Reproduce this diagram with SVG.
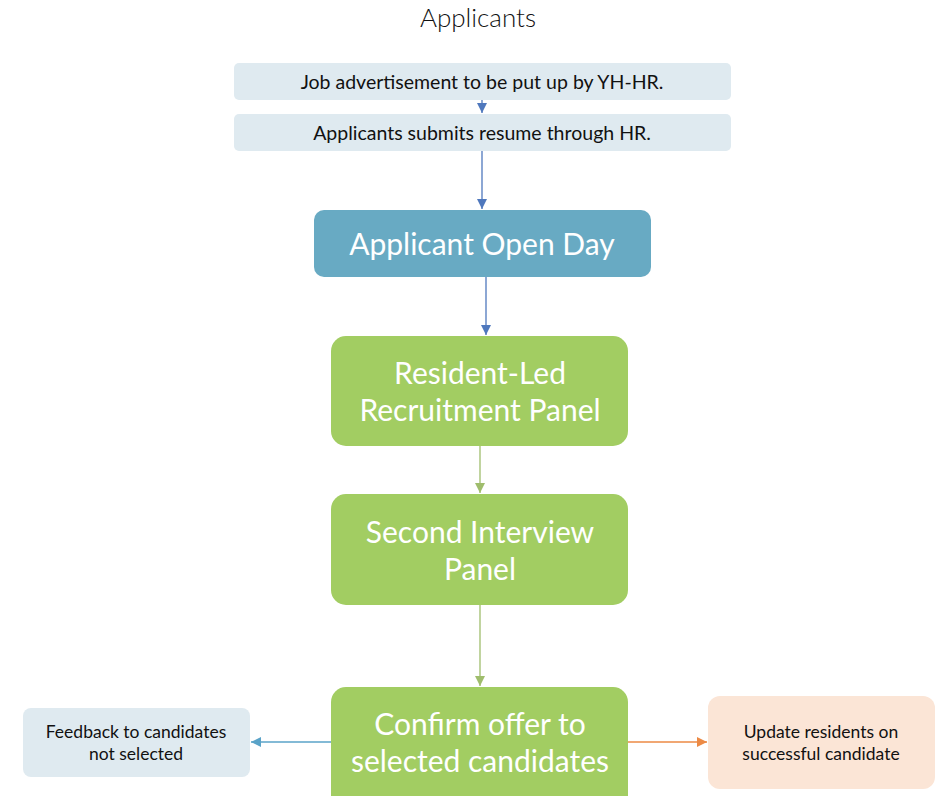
<svg xmlns="http://www.w3.org/2000/svg" width="938" height="796" viewBox="0 0 938 796">
<style>
text{font-family:"Lato","Open Sans",sans-serif;text-anchor:middle}
.lt{fill:#dfeaf0}
.dk{fill:#111;font-size:19.5px}
.sm{fill:#111;font-size:17.5px}
.wh{fill:#fff;font-size:30px}
.gr{fill:#a2cd62}
.c{fill:none;stroke-width:1.3}
</style>
<defs>
<marker id="ab" viewBox="0 0 10 10" refX="10" refY="5" markerWidth="10" markerHeight="10" markerUnits="userSpaceOnUse" orient="auto"><path d="M0,0L10,5L0,10z" fill="#4f78bd"/></marker>
<marker id="ag" viewBox="0 0 10 10" refX="10" refY="5" markerWidth="10" markerHeight="10" markerUnits="userSpaceOnUse" orient="auto"><path d="M0,0L10,5L0,10z" fill="#9fbd6c"/></marker>
<marker id="al" viewBox="0 0 10 10" refX="10" refY="5" markerWidth="10" markerHeight="10" markerUnits="userSpaceOnUse" orient="auto"><path d="M0,0L10,5L0,10z" fill="#5aa3c8"/></marker>
<marker id="ao" viewBox="0 0 10 10" refX="10" refY="5" markerWidth="10" markerHeight="10" markerUnits="userSpaceOnUse" orient="auto"><path d="M0,0L10,5L0,10z" fill="#ec8a45"/></marker>
</defs>
<text x="478" y="27" style="font-size:26px;fill:#111;font-weight:300">Applicants</text>
<g id="connectors">
<line class="c" x1="482" y1="100" x2="482" y2="113" stroke="#4f78bd" marker-end="url(#ab)"/>
<line class="c" x1="482" y1="151" x2="482" y2="209" stroke="#4f78bd" marker-end="url(#ab)"/>
<line class="c" x1="486" y1="277" x2="486" y2="335" stroke="#4f78bd" marker-end="url(#ab)"/>
<line class="c" x1="480" y1="446" x2="480" y2="493" stroke="#9fbd6c" marker-end="url(#ag)"/>
<line class="c" x1="480" y1="605" x2="480" y2="686" stroke="#9fbd6c" marker-end="url(#ag)"/>
<line class="c" x1="331" y1="742" x2="251" y2="742" stroke="#5aa3c8" marker-end="url(#al)"/>
<line class="c" x1="628" y1="742" x2="707" y2="742" stroke="#ec8a45" marker-end="url(#ao)"/>
</g>
<g id="n1"><rect class="lt" x="234" y="63" width="497" height="37" rx="5"/><text class="dk" x="482" y="89">Job advertisement to be put up by YH-HR.</text></g>
<g id="n2"><rect class="lt" x="234" y="114" width="497" height="37" rx="5"/><text class="dk" x="482" y="140">Applicants submits resume through HR.</text></g>
<g id="n3"><rect x="314" y="210" width="337" height="67" rx="10" fill="#68aac3"/><text class="wh" x="482" y="255">Applicant Open Day</text></g>
<g id="n4"><rect class="gr" x="331" y="336" width="297" height="110" rx="15"/><text class="wh" x="480" y="384">Resident-Led</text><text class="wh" x="480" y="421">Recruitment Panel</text></g>
<g id="n5"><rect class="gr" x="331" y="494" width="297" height="111" rx="15"/><text class="wh" x="480" y="543">Second Interview</text><text class="wh" x="480" y="580">Panel</text></g>
<g id="n6"><rect class="gr" x="331" y="687" width="297" height="125" rx="15"/><text class="wh" x="480" y="735">Confirm offer to</text><text class="wh" x="480" y="772">selected candidates</text></g>
<g id="n7"><rect class="lt" x="23" y="708" width="227" height="69" rx="8"/><text class="sm" x="136" y="738">Feedback to candidates</text><text class="sm" x="136" y="760">not selected</text></g>
<g id="n8"><rect x="708" y="696" width="227" height="93" rx="12" fill="#fbe5d6"/><text class="sm" x="821" y="738">Update residents on</text><text class="sm" x="821" y="760">successful candidate</text></g>
</svg>
